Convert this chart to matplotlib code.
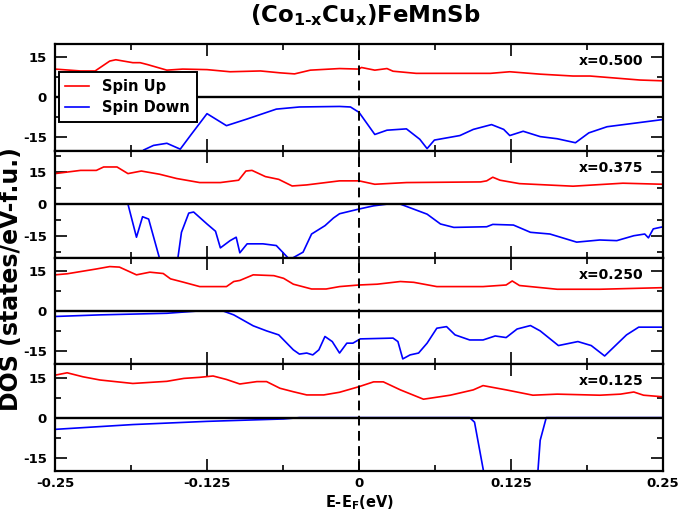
import numpy as np
import matplotlib.pyplot as plt
from matplotlib.ticker import MultipleLocator

plt.rcParams['font.family'] = 'DejaVu Sans'
plt.rcParams['font.weight'] = 'bold'
plt.rcParams['mathtext.default'] = 'bf'
plt.rcParams['axes.unicode_minus'] = False

# ---- x = 0.500 ----
e_up_500 = [-0.25, -0.229, -0.217, -0.205, -0.2, -0.186, -0.18, -0.174, -0.158, -0.145, -0.125,
            -0.106, -0.081, -0.065, -0.053, -0.04, -0.016, 0.0, 0.002, 0.013, 0.023, 0.028,
            0.047, 0.108, 0.124, 0.149, 0.176, 0.19, 0.231, 0.25]
dos_up_500 = [10.6, 9.9, 9.9, 13.6, 14.1, 13.0, 13.0, 12.3, 10.2, 10.6, 10.4,
              9.6, 9.9, 9.2, 8.8, 10.2, 10.8, 10.6, 11.2, 10.2, 10.8, 9.8,
              9.0, 9.0, 9.6, 8.7, 8.0, 8.0, 6.5, 6.2]
e_dn_500 = [-0.25, -0.2, -0.182, -0.177, -0.169, -0.158, -0.147, -0.138, -0.125, -0.109, -0.092,
            -0.068, -0.049, -0.016, -0.007, 0.0, 0.013, 0.023, 0.039, 0.05, 0.056, 0.062,
            0.083, 0.094, 0.109, 0.119, 0.124, 0.135, 0.149, 0.163, 0.178, 0.189, 0.204, 0.25]
dos_dn_500 = [-28, -26, -22, -19.7, -18.0, -17.2, -19.4, -13.9, -6.1, -10.6, -8.1,
              -4.4, -3.6, -3.4, -3.6, -5.6, -13.9, -12.3, -11.8, -15.7, -19.2, -16.0,
              -14.3, -12.0, -10.2, -12.0, -14.3, -12.7, -14.7, -15.5, -17.0, -13.3, -11.0, -8.3]

# ---- x = 0.375 ----
e_up_375 = [-0.25, -0.229, -0.216, -0.21, -0.199, -0.19, -0.179, -0.164, -0.15, -0.131, -0.114,
            -0.099, -0.093, -0.088, -0.077, -0.066, -0.055, -0.043, -0.016, 0.0, 0.013, 0.039,
            0.1, 0.105, 0.11, 0.116, 0.132, 0.176, 0.217, 0.25]
dos_up_375 = [14.3, 15.8, 15.8, 17.4, 17.4, 14.3, 15.5, 14.0, 12.0, 10.1, 10.1,
              11.2, 15.5, 15.8, 12.9, 11.6, 8.5, 9.0, 10.9, 10.9, 9.3, 10.1,
              10.4, 10.9, 12.6, 11.2, 9.6, 8.4, 9.8, 9.3]
e_dn_375 = [-0.25, -0.19, -0.183, -0.178, -0.173, -0.164, -0.157, -0.149, -0.146, -0.14, -0.136,
            -0.125, -0.118, -0.114, -0.106, -0.101, -0.098, -0.092, -0.079, -0.068, -0.057, -0.046,
            -0.039, -0.028, -0.021, -0.016, 0.0, 0.012, 0.023, 0.034, 0.056, 0.067, 0.078,
            0.105, 0.11, 0.127, 0.141, 0.157, 0.179, 0.198, 0.212, 0.226, 0.235, 0.238, 0.242, 0.25]
dos_dn_375 = [0.0, 0.0, -15.5, -5.9, -7.0, -25.5, -30, -25.5, -13.2, -4.2, -3.7,
              -9.3, -12.7, -20.5, -17.1, -15.5, -22.8, -18.6, -18.6, -19.4, -26, -22.5,
              -14.0, -10.1, -6.5, -4.5, -2.3, -0.8, 0.0, 0.0, -4.7, -9.3, -10.9,
              -10.6, -9.5, -9.8, -13.2, -14.0, -17.8, -16.8, -17.1, -14.8, -14.0, -15.8, -11.6, -10.6]

# ---- x = 0.250 ----
e_up_250 = [-0.25, -0.24, -0.216, -0.205, -0.197, -0.183, -0.172, -0.161, -0.155, -0.144, -0.131,
            -0.109, -0.103, -0.098, -0.087, -0.07, -0.062, -0.054, -0.039, -0.027, -0.016, 0.0,
            0.015, 0.034, 0.045, 0.064, 0.102, 0.121, 0.126, 0.132, 0.163, 0.198, 0.25]
dos_up_250 = [13.5, 13.9, 15.7, 16.6, 16.4, 13.5, 14.5, 14.0, 12.0, 10.7, 9.1,
              9.1, 11.0, 11.4, 13.5, 13.2, 12.2, 10.0, 8.2, 8.2, 9.1, 9.7,
              10.0, 11.0, 10.7, 9.1, 9.1, 9.7, 11.2, 9.5, 8.1, 8.1, 8.7]
e_dn_250 = [-0.25, -0.213, -0.158, -0.131, -0.112, -0.103, -0.087, -0.076, -0.066, -0.054, -0.049,
            -0.043, -0.038, -0.033, -0.028, -0.022, -0.016, -0.01, -0.005, 0.001, 0.028, 0.032,
            0.036, 0.042, 0.049, 0.056, 0.064, 0.072, 0.079, 0.091, 0.102, 0.112, 0.121,
            0.13, 0.141, 0.149, 0.164, 0.18, 0.191, 0.202, 0.212, 0.22, 0.23, 0.25]
dos_dn_250 = [-2.1, -1.5, -0.9, 0.0, 0.0, -1.5, -5.6, -7.5, -9.0, -14.6, -16.2,
              -15.8, -16.5, -14.6, -9.6, -11.5, -15.8, -12.1, -12.1, -10.5, -10.2, -11.5,
              -18.0, -16.5, -15.8, -12.1, -6.5, -5.9, -9.0, -10.9, -10.9, -9.4, -10.0,
              -6.8, -5.5, -7.5, -13.0, -11.5, -13.0, -16.9, -12.5, -9.0, -6.1, -6.1]

# ---- x = 0.125 ----
e_up_125 = [-0.25, -0.24, -0.227, -0.213, -0.186, -0.158, -0.144, -0.131, -0.12, -0.109, -0.098,
            -0.084, -0.076, -0.065, -0.054, -0.043, -0.029, -0.016, 0.0, 0.012, 0.02, 0.034,
            0.053, 0.075, 0.094, 0.102, 0.121, 0.143, 0.163, 0.198, 0.215, 0.226, 0.234, 0.25]
dos_up_125 = [15.9, 16.8, 15.3, 14.1, 12.8, 13.6, 14.7, 15.1, 15.6, 14.3, 12.6,
              13.5, 13.5, 11.0, 9.7, 8.5, 8.5, 9.5, 11.6, 13.4, 13.4, 10.4,
              6.9, 8.4, 10.4, 12.0, 10.4, 8.4, 8.8, 8.4, 8.8, 9.6, 8.4, 7.8]
e_dn_125 = [-0.25, -0.186, -0.125, -0.062, -0.049, 0.091, 0.095, 0.104, 0.125, 0.1465,
            0.149, 0.154, 0.25]
dos_dn_125 = [-4.4, -2.6, -1.4, -0.5, 0.0, 0.0, -1.7, -24, -30, -24,
              -8.5, 0.0, 0.0]

panels = [
    ("x=0.500", e_up_500, dos_up_500, e_dn_500, dos_dn_500, 20),
    ("x=0.375", e_up_375, dos_up_375, e_dn_375, dos_dn_375, 25),
    ("x=0.250", e_up_250, dos_up_250, e_dn_250, dos_dn_250, 20),
    ("x=0.125", e_up_125, dos_up_125, e_dn_125, dos_dn_125, 20),
]

fig = plt.figure(figsize=(6.8, 5.17), dpi=100)
W, H = 680.0, 517.0
left, right = 55, 663
top0, ph = 44, 106.75

axes = []
for i, (lab, eu, du, ed, dd, lim) in enumerate(panels):
    top = top0 + i * ph
    ax = fig.add_axes([left / W, 1 - (top + ph) / H, (right - left) / W, ph / H])
    axes.append(ax)

    l1, = ax.plot(eu, du, color='red', lw=1.2, label='Spin Up')
    l2, = ax.plot(ed, dd, color='blue', lw=1.2, label='Spin Down')
    ax.axhline(0, color='black', lw=1.7)
    ax.axvline(0, color='black', lw=1.4, ls=(0, (5, 2.8)))

    ax.set_xlim(-0.25, 0.25)
    ax.set_ylim(-lim, lim)
    ax.xaxis.set_major_locator(MultipleLocator(0.125))
    ax.xaxis.set_minor_locator(MultipleLocator(0.0625))
    ax.set_yticks([-15, 0, 15])
    ax.set_yticklabels(['-15', '0', '15'])
    ax.yaxis.set_minor_locator(MultipleLocator(7.5))
    ax.tick_params(which='both', direction='in', top=True, right=True, width=1.2)
    ax.tick_params(which='major', length=8.5, labelsize=9.5, pad=6)
    ax.tick_params(which='minor', length=4)
    for s in ax.spines.values():
        s.set_linewidth(1.6)

    if i < 3:
        ax.tick_params(labelbottom=False)
    else:
        ax.set_xticks([-0.25, -0.125, 0, 0.125, 0.25])
        ax.set_xticklabels(['-0.25', '-0.125', '0', '0.125', '0.25'])
        ax.tick_params(axis='x', which='major', pad=4.5)

    ax.text(0.968, 0.84, lab, transform=ax.transAxes, ha='right', va='center', fontsize=10)

    if i == 0:
        leg = axes[0].legend(handles=[l1, l2], loc='upper left', bbox_to_anchor=(0.006, 0.735),
                             fontsize=10.5, fancybox=False, framealpha=1, edgecolor='black',
                             handlelength=1.65, handletextpad=0.9, labelspacing=0.45,
                             borderpad=0.45, borderaxespad=0)
        leg.get_frame().set_linewidth(1.4)

fig.text(365 / W, 1 - 22 / H, '(Co$_{1‐x}$Cu$_{x}$)FeMnSb', ha='center', va='baseline', fontsize=16.5)
fig.text(11 / W, 1 - 279 / H, 'DOS (states/eV-f.u.)', rotation=90, ha='center', va='center', fontsize=17)
fig.text(359 / W, 1 - 503 / H, 'E-E$_{F}$(eV)', ha='center', va='center', fontsize=10.5)

fig.savefig('out.png', dpi=100)
